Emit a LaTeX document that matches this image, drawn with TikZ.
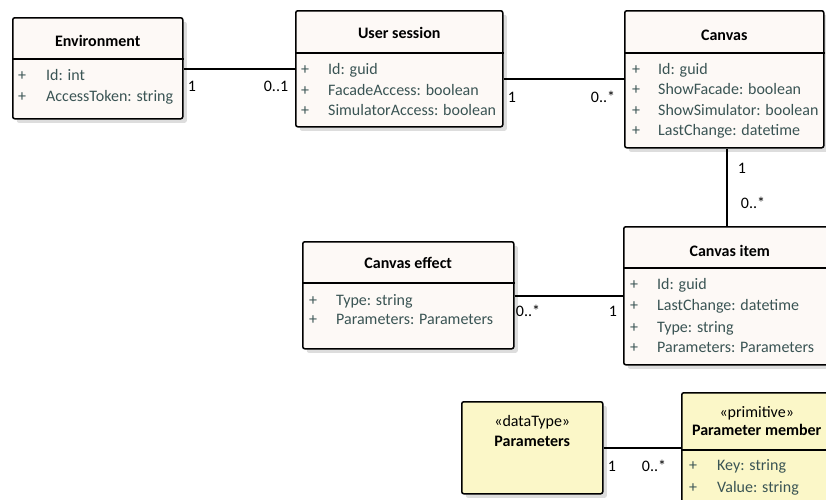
\documentclass[tikz,border=0pt]{standalone}
\usepackage{fontspec}
\setmainfont{Carlito}
\usetikzlibrary{shadows}
\definecolor{boxfill}{RGB}{253,249,246}
\definecolor{dtfill}{RGB}{251,247,200}
\definecolor{attrtext}{RGB}{58,84,84}
\definecolor{shade}{RGB}{221,221,221}
\tikzset{
  classbox/.style={draw=black, line width=1.5pt, fill=boxfill, rounded corners=2pt,
    anchor=north west, inner sep=0pt,
    drop shadow={shadow xshift=4pt, shadow yshift=-4pt, fill=shade, opacity=1}},
  datatype/.style={classbox, fill=dtfill},
  sep/.style={line width=1.2pt},
  txt/.style={inner sep=0pt, font=\fontsize{16}{19}\selectfont},
  title/.style={txt, anchor=base, font=\fontsize{16}{19}\selectfont\bfseries},
  stereo/.style={txt, anchor=base},
  plus/.style={txt, anchor=base, text=attrtext},
  attr/.style={txt, anchor=base west, text=attrtext},
  mult/.style={txt, anchor=base},
  assoc/.style={line width=1.2pt},
}
\begin{document}
\begin{tikzpicture}[x=1pt,y=-1pt]
\clip (0,0) rectangle (826,499);

% ---- class boxes ----
\node[classbox, minimum width=170pt, minimum height=101pt] (env) at (12,17) {};
\node[classbox, minimum width=207pt, minimum height=116pt] (us) at (295,10) {};
\node[classbox, minimum width=199pt, minimum height=137pt] (canvas) at (624,10) {};
\node[classbox, minimum width=211pt, minimum height=107pt] (effect) at (302,241) {};
\node[classbox, minimum width=212pt, minimum height=138pt] (item) at (623,226) {};
\node[datatype, minimum width=141pt, minimum height=92pt] (params) at (461,401) {};
\node[datatype, minimum width=150pt, minimum height=125pt] (member) at (681,392) {};

% ---- compartment separators ----
\draw[sep] (env.west |- 0,59) -- (env.east |- 0,59);
\draw[sep] (us.west |- 0,53) -- (us.east |- 0,53);
\draw[sep] (canvas.west |- 0,53) -- (canvas.east |- 0,53);
\draw[sep] (effect.west |- 0,283) -- (effect.east |- 0,283);
\draw[sep] (item.west |- 0,268) -- (item.east |- 0,268);
\draw[sep] (member.west |- 0,450) -- (member.east |- 0,450);

% ---- Environment ----
\node[title] (env-t) at (env.north |- 0,46.5) {Environment};
\node[plus] (env-p1) at (22,80.5) {+};
\node[attr] (env-a1) at (46,80.5) {Id: int};
\node[plus] (env-p2) at (22,101.5) {+};
\node[attr] (env-a2) at (46,101.5) {AccessToken: string};

% ---- User session ----
\node[title] (us-t) at (us.north |- 0,38.5) {User session};
\node[plus] (us-p1) at (305,74.5) {+};
\node[attr] (us-a1) at (328,74.5) {Id: guid};
\node[plus] (us-p2) at (305,95.5) {+};
\node[attr] (us-a2) at (328,95.5) {FacadeAccess: boolean};
\node[plus] (us-p3) at (305,115.5) {+};
\node[attr] (us-a3) at (328,115.5) {SimulatorAccess: boolean};

% ---- Canvas ----
\node[title] (canvas-t) at (canvas.north |- 0,40.5) {Canvas};
\node[plus] (canvas-p1) at (636,74.5) {+};
\node[attr] (canvas-a1) at (658,74.5) {Id: guid};
\node[plus] (canvas-p2) at (636,94.5) {+};
\node[attr] (canvas-a2) at (658,94.5) {ShowFacade: boolean};
\node[plus] (canvas-p3) at (636,115.5) {+};
\node[attr] (canvas-a3) at (658,115.5) {ShowSimulator: boolean};
\node[plus] (canvas-p4) at (636,135.5) {+};
\node[attr] (canvas-a4) at (658,135.5) {LastChange: datetime};

% ---- Canvas effect ----
\node[title] (effect-t) at (effect.north |- 0,268.5) {Canvas effect};
\node[plus] (effect-p1) at (313,305.5) {+};
\node[attr] (effect-a1) at (336,305.5) {Type: string};
\node[plus] (effect-p2) at (313,324.5) {+};
\node[attr] (effect-a2) at (336,324.5) {Parameters: Parameters};

% ---- Canvas item ----
\node[title] (item-t) at (item.north |- 0,256.5) {Canvas item};
\node[plus] (item-p1) at (634,289.5) {+};
\node[attr] (item-a1) at (657,289.5) {Id: guid};
\node[plus] (item-p2) at (634,310.5) {+};
\node[attr] (item-a2) at (657,310.5) {LastChange: datetime};
\node[plus] (item-p3) at (634,332.5) {+};
\node[attr] (item-a3) at (657,332.5) {Type: string};
\node[plus] (item-p4) at (634,352.5) {+};
\node[attr] (item-a4) at (657,352.5) {Parameters: Parameters};

% ---- Parameters (data type) ----
\node[stereo] (params-s) at (params.north |- 0,426) {«dataType»};
\node[title] (params-t) at (params.north |- 0,446.5) {Parameters};

% ---- Parameter member (primitive) ----
\node[stereo] (member-s) at (member.north |- 0,417) {«primitive»};
\node[title] (member-t) at (member.north |- 0,435.5) {Parameter member};
\node[plus] (member-p1) at (693,470.5) {+};
\node[attr] (member-a1) at (717,470.5) {Key: string};
\node[plus] (member-p2) at (693,492.5) {+};
\node[attr] (member-a2) at (717,492.5) {Value: string};

% ---- associations ----
\draw[assoc] (env.east |- 0,69) -- (us.west |- 0,69);
\draw[assoc] (us.east |- 0,79) -- (canvas.west |- 0,79);
\draw[assoc] (canvas.south -| 727,0) -- (item.north -| 727,0);
\draw[assoc] (effect.east |- 0,296) -- (item.west |- 0,296);
\draw[assoc] (params.east |- 0,448) -- (member.west |- 0,448);

% ---- multiplicities ----
\node[mult] (m1) at (192,91.5) {1};
\node[mult] (m2) at (276,91.5) {0..1};
\node[mult] (m3) at (512,102.5) {1};
\node[mult] (m4) at (603,102.5) {0..*};
\node[mult] (m5) at (742,173.5) {1};
\node[mult] (m6) at (753,208.5) {0..*};
\node[mult] (m7) at (528,316.5) {0..*};
\node[mult] (m8) at (613,316.5) {1};
\node[mult] (m9) at (612,471.5) {1};
\node[mult] (m10) at (654,471.5) {0..*};
\end{tikzpicture}
\end{document}
